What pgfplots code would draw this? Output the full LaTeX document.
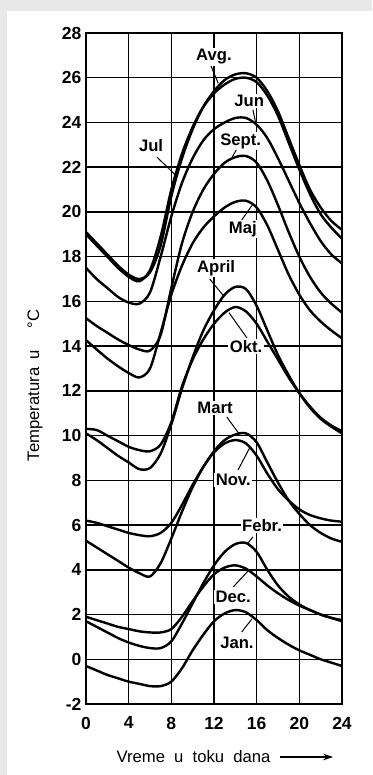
\documentclass[border=0pt]{standalone}
\usepackage{pgfplots}
\pgfplotsset{compat=1.18}
\usepackage{fontspec}
\setmainfont{Liberation Sans}
\usetikzlibrary{arrows.meta}
\begin{document}
\begin{tikzpicture}[x=0.6pt,y=0.6pt]
\fill[black!9] (0,0) rectangle (372,775);
\fill[white] (7,0) rectangle (372,764);
\begin{axis}[
  at={(51.6pt,42.6pt)}, anchor=south west,
  scale only axis, width=153.6pt, height=402.6pt,
  xmin=0, xmax=24, ymin=-2, ymax=28,
  xtick={0,4,...,24}, ytick={-2,0,...,28},
  grid=major, major grid style={black, line width=0.9pt},
  axis line style={line width=1.1pt},
  major tick length=0pt,
  /pgf/number format/assume math mode=true,
  ticklabel style={font=\fontsize{10.5}{12}\selectfont\bfseries, inner sep=0pt},
  yticklabel style={xshift=-2.6pt},
  xticklabel style={yshift=-7.5pt},
  clip=false,
  curve/.style={black, no markers, line width=1.45pt, smooth, tension=0.5},
]
% Avg.
\addplot[curve] coordinates {(0,19.1)(1,18.6)(2,18.1)(3,17.6)(4,17.2)(5,17.0)(6,17.3)(7,18.5)(8,20.7)(9,22.4)(10,23.7)(11,24.7)(12,25.4)(13,25.9)(14,26.15)(15,26.2)(16,26.0)(17,25.4)(18,24.5)(19,23.3)(20,22.1)(21,21.0)(22,20.2)(23,19.6)(24,19.2)};
% Jul
\addplot[curve] coordinates {(0,19.0)(1,18.5)(2,18.0)(3,17.5)(4,17.1)(5,16.9)(6,17.4)(7,18.9)(8,21.0)(9,22.6)(10,23.8)(11,24.7)(12,25.3)(13,25.7)(14,25.95)(15,26.0)(16,25.8)(17,25.2)(18,24.3)(19,23.1)(20,21.9)(21,20.8)(22,19.9)(23,19.3)(24,18.8)};
% Jun
\addplot[curve] coordinates {(0,17.5)(1,17.0)(2,16.6)(3,16.2)(4,15.95)(5,15.9)(6,16.4)(7,18.0)(8,19.8)(9,21.3)(10,22.4)(11,23.2)(12,23.7)(13,24.0)(14,24.2)(15,24.2)(16,23.9)(17,23.3)(18,22.4)(19,21.4)(20,20.4)(21,19.5)(22,18.7)(23,18.1)(24,17.7)};
% Sept.
\addplot[curve] coordinates {(0,15.25)(1,14.9)(2,14.6)(3,14.3)(4,14.05)(5,13.85)(6,13.8)(7,14.5)(8,16.6)(9,18.6)(10,20.0)(11,21.0)(12,21.7)(13,22.2)(14,22.45)(15,22.5)(16,22.2)(17,21.4)(18,20.3)(19,19.1)(20,18.0)(21,17.1)(22,16.4)(23,15.9)(24,15.5)};
% Maj
\addplot[curve] coordinates {(0,14.27)(1,13.85)(2,13.45)(3,13.1)(4,12.8)(5,12.6)(6,13.0)(7,14.6)(8,16.3)(9,17.6)(10,18.6)(11,19.3)(12,19.8)(13,20.2)(14,20.45)(15,20.5)(16,20.2)(17,19.4)(18,18.3)(19,17.2)(20,16.3)(21,15.6)(22,15.1)(23,14.7)(24,14.35)};
% April
\addplot[curve] coordinates {(0,10.1)(1,9.8)(2,9.45)(3,9.1)(4,8.8)(5,8.5)(6,8.55)(7,9.2)(8,10.5)(9,12.1)(10,13.5)(11,14.7)(12,15.6)(13,16.3)(14,16.65)(15,16.55)(16,15.8)(17,14.7)(18,13.6)(19,12.7)(20,11.9)(21,11.25)(22,10.75)(23,10.4)(24,10.1)};
% Okt.
\addplot[curve] coordinates {(0,10.3)(1,10.25)(2,10.0)(3,9.75)(4,9.5)(5,9.35)(6,9.3)(7,9.6)(8,10.6)(9,12.2)(10,13.4)(11,14.3)(12,15.0)(13,15.5)(14,15.75)(15,15.55)(16,15.0)(17,14.2)(18,13.4)(19,12.6)(20,11.9)(21,11.3)(22,10.8)(23,10.45)(24,10.2)};
% Mart
\addplot[curve] coordinates {(0,5.3)(1,5.0)(2,4.7)(3,4.4)(4,4.1)(5,3.85)(6,3.7)(7,4.3)(8,5.4)(9,6.6)(10,7.7)(11,8.6)(12,9.3)(13,9.8)(14,10.05)(15,10.1)(16,9.7)(17,8.8)(18,7.9)(19,7.1)(20,6.5)(21,6.0)(22,5.65)(23,5.4)(24,5.25)};
% Nov.
\addplot[curve] coordinates {(0,6.2)(1,6.1)(2,5.95)(3,5.8)(4,5.65)(5,5.55)(6,5.5)(7,5.65)(8,6.1)(9,6.9)(10,7.8)(11,8.6)(12,9.25)(13,9.65)(14,9.8)(15,9.65)(16,9.1)(17,8.3)(18,7.6)(19,7.1)(20,6.7)(21,6.45)(22,6.3)(23,6.2)(24,6.15)};
% Febr.
\addplot[curve] coordinates {(0,1.7)(1,1.45)(2,1.2)(3,0.95)(4,0.75)(5,0.6)(6,0.5)(7,0.5)(8,0.8)(9,1.6)(10,2.5)(11,3.4)(12,4.2)(13,4.8)(14,5.15)(15,5.2)(16,4.8)(17,4.0)(18,3.3)(19,2.8)(20,2.45)(21,2.2)(22,2.0)(23,1.85)(24,1.7)};
% Dec.
\addplot[curve] coordinates {(0,1.9)(1,1.75)(2,1.6)(3,1.45)(4,1.35)(5,1.25)(6,1.2)(7,1.2)(8,1.35)(9,1.9)(10,2.6)(11,3.25)(12,3.8)(13,4.1)(14,4.2)(15,4.05)(16,3.7)(17,3.3)(18,2.95)(19,2.65)(20,2.4)(21,2.2)(22,2.0)(23,1.85)(24,1.75)};
% Jan.
\addplot[curve] coordinates {(0,-0.3)(1,-0.5)(2,-0.7)(3,-0.85)(4,-1.0)(5,-1.1)(6,-1.2)(7,-1.2)(8,-1.0)(9,-0.4)(10,0.4)(11,1.1)(12,1.7)(13,2.05)(14,2.2)(15,2.1)(16,1.75)(17,1.3)(18,0.95)(19,0.65)(20,0.4)(21,0.2)(22,0.0)(23,-0.15)(24,-0.3)};
% pointer lines
\begin{scope}[line width=0.6pt]
\draw (axis cs:11.6,26.66) -- (axis cs:12.4,25.75);
\draw (axis cs:15.65,24.56) -- (axis cs:15.9,24.0);
\draw (axis cs:14.2,22.86) -- (axis cs:13.7,22.45);
\draw (axis cs:6.65,22.45) -- (axis cs:8.5,21.6);
\draw (axis cs:14.6,19.64) -- (axis cs:15.65,20.35);
\draw (axis cs:11.6,17.0) -- (axis cs:12.9,16.25);
\draw (axis cs:15.1,14.36) -- (axis cs:13.4,15.5);
\draw (axis cs:13.2,10.83) -- (axis cs:14.4,10.05);
\draw (axis cs:14.25,8.46) -- (axis cs:15.4,9.5);
\draw (axis cs:15.65,5.47) -- (axis cs:15.1,5.15);
\draw (axis cs:13.8,3.23) -- (axis cs:15.2,3.95);
\draw (axis cs:14.6,1.22) -- (axis cs:15.55,1.8);
\end{scope}
\begin{scope}[every node/.style={fill=white, inner sep=0.8pt, font=\fontsize{10}{11}\selectfont\bfseries}]
\node at (axis cs:12.0,26.93) {Avg.};
\node at (axis cs:15.3,24.96) {Jun};
\node at (axis cs:14.5,23.17) {Sept.};
\node at (axis cs:6.1,22.95) {Jul};
\node at (axis cs:14.7,19.24) {Maj};
\node at (axis cs:12.2,17.49) {April};
\node at (axis cs:15.0,14.0) {Okt.};
\node at (axis cs:12.1,11.23) {Mart};
\node at (axis cs:13.8,8.0) {Nov.};
\node at (axis cs:16.5,6.0) {Febr.};
\node at (axis cs:13.8,2.78) {Dec.};
\node at (axis cs:14.15,0.73) {Jan.};
\end{scope}
% axis titles
\node[font=\fontsize{10}{12}\selectfont] at (rel axis cs:0.42,-0.079) {Vreme\hspace{0.55em}u\hspace{0.55em}toku\hspace{0.55em}dana};
\draw[line width=0.8pt, -{Stealth[length=6pt,width=4pt]}] (rel axis cs:0.758,-0.079) -- (rel axis cs:0.965,-0.079);
\node[rotate=90, font=\fontsize{10}{12}\selectfont] at (rel axis cs:-0.199,0.475) {Temperatura\hspace{0.5em}u\hspace{1.3em}°C};
\end{axis}
\end{tikzpicture}
\end{document}
